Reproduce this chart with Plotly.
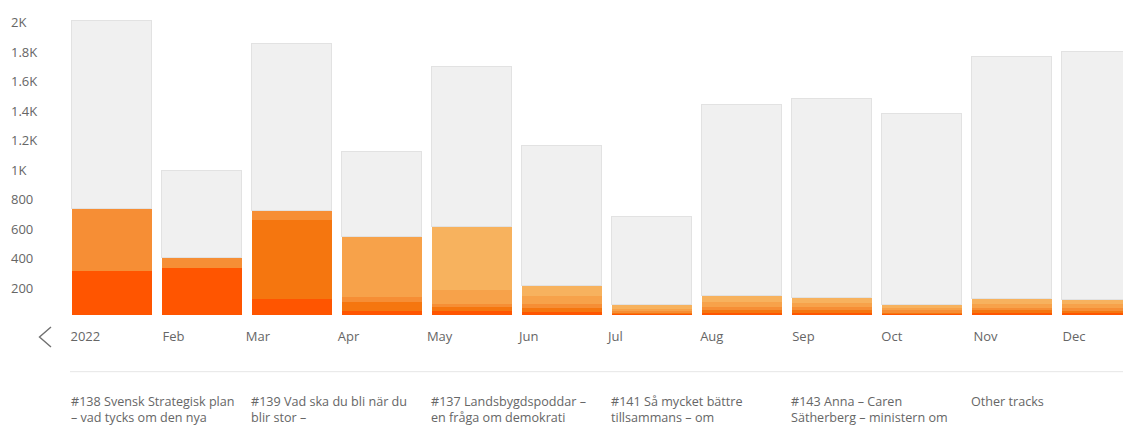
import plotly.graph_objects as go
import pandas as pd

months = ["2022", "Feb", "Mar", "Apr", "May", "Jun", "Jul", "Aug", "Sep", "Oct", "Nov", "Dec"]
month_starts = pd.date_range("2022-01-01", periods=12, freq="MS")

track_names = [
    "#138 Svensk Strategisk plan<br>– vad tycks om den nya",
    "#139 Vad ska du bli när du<br>blir stor –",
    "#137 Landsbygdspoddar –<br>en fråga om demokrati",
    "#141 Så mycket bättre<br>tillsammans – om",
    "#143 Anna – Caren<br>Sätherberg – ministern om",
    "Other tracks",
]

t138 = [300, 320, 107, 26, 24, 20, 8, 15, 15, 10, 15, 14]
t139 = [0, 0, 535, 64, 27, 28, 8, 20, 18, 10, 17, 16]
t137 = [420, 67, 67, 31, 23, 27, 10, 20, 20, 12, 18, 17]
t141 = [0, 0, 0, 413, 95, 55, 14, 35, 30, 15, 25, 25]
t143 = [0, 0, 0, 0, 433, 70, 30, 43, 37, 25, 35, 32]
other = [1270, 588, 1131, 576, 1080, 947, 597, 1292, 1345, 1292, 1640, 1679]

y_ticks = [200, 400, 600, 800, 1000, 1200, 1400, 1600, 1800, 2000]
y_tick_text = ["200", "400", "600", "800", "1K", "1.2K", "1.4K", "1.6K", "1.8K", "2K"]

series = [t138, t139, t137, t141, t143, other]
colors = ["#FF5500", "#F5760F", "#F68E35", "#F7A24A", "#F7B25E", "#F0F0F0"]

# Page adds an 8px margin, so figure px = window px - 8; size fits the window
W, H = 1123, 433
PLOT_H = 307
FONT = "Open Sans, Noto Sans, sans-serif"
TXT = "#666666"

fig = go.Figure()
idx = list(range(len(months)))
for name, vals, col in zip(track_names, series, colors):
    is_other = name == "Other tracks"
    fig.add_trace(go.Bar(
        x=idx, y=vals, name=name.replace("<br>", " "),
        marker=dict(color=col,
                    line=dict(color="#E2E2E2" if is_other else col, width=1 if is_other else 0)),
        showlegend=False, hovertext=months,
    ))

# invisible trace to carry the date axis used for month labels
fig.add_trace(go.Scatter(x=month_starts, y=[0] * 12, xaxis="x2", mode="markers",
                         marker=dict(opacity=0), showlegend=False, hoverinfo="skip"))

# bar axis: category 0 centred at figure px 103.7, 90 px pitch
x0 = -103.7 / 90
x1 = (W - 103.7) / 90

# date axis: Jan 1 near figure px 63, 2.97 px per day
px_day = 2.97
jan1 = month_starts[0]
d0 = jan1 - pd.Timedelta(days=62.5 / px_day)
d1 = jan1 + pd.Timedelta(days=(W - 62.5) / px_day)

def py(pix):
    return (PLOT_H - pix) / PLOT_H

annotations = []
legend_cols = [0, 2, 4, 6, 8, 10]
for name, c in zip(track_names, legend_cols):
    annotations.append(dict(
        x=c, xref="x", y=py(383), yref="paper", text=name, showarrow=False,
        xanchor="left", yanchor="top", align="left", xshift=-43,
        font=dict(family=FONT, size=12.6, color=TXT),
    ))

shapes = [
    dict(type="line", xref="paper", yref="paper", x0=62 / W, x1=1.0,
         y0=py(363.7), y1=py(363.7), line=dict(color="#E6E6E6", width=1)),
    dict(type="path", xref="paper", yref="paper",
         path=f"M {43/W} {py(319)} L {31.5/W} {py(329)} L {43/W} {py(339)}",
         line=dict(color="#707070", width=1.4)),
]

fig.update_layout(
    width=W, height=H,
    barmode="stack", bargap=0.111,
    plot_bgcolor="white", paper_bgcolor="white",
    margin=dict(l=0, r=0, t=0, b=H - PLOT_H, autoexpand=False),
    xaxis=dict(range=[x0, x1], showticklabels=False, showgrid=False,
               zeroline=False, showline=False, ticks="", automargin=False),
    xaxis2=dict(overlaying="x", anchor="y", side="bottom", type="date",
                range=[d0, d1], tickvals=month_starts, ticktext=months,
                ticklabelposition="outside right", ticklabelstandoff=12,
                showgrid=False, showline=False, ticks="", automargin=False,
                tickfont=dict(family=FONT, size=13, color=TXT)),
    yaxis=dict(range=[0, PLOT_H / 0.14775], tickvals=y_ticks, ticktext=y_tick_text,
               ticklabelposition="inside", ticklabelstandoff=0, ticklabelshift=3,
               showgrid=False, zeroline=False, showline=False, ticks="", automargin=False,
               tickfont=dict(family=FONT, size=13, color=TXT)),
    annotations=annotations,
    shapes=shapes,
    font=dict(family=FONT),
)

fig.write_html("out.html")
